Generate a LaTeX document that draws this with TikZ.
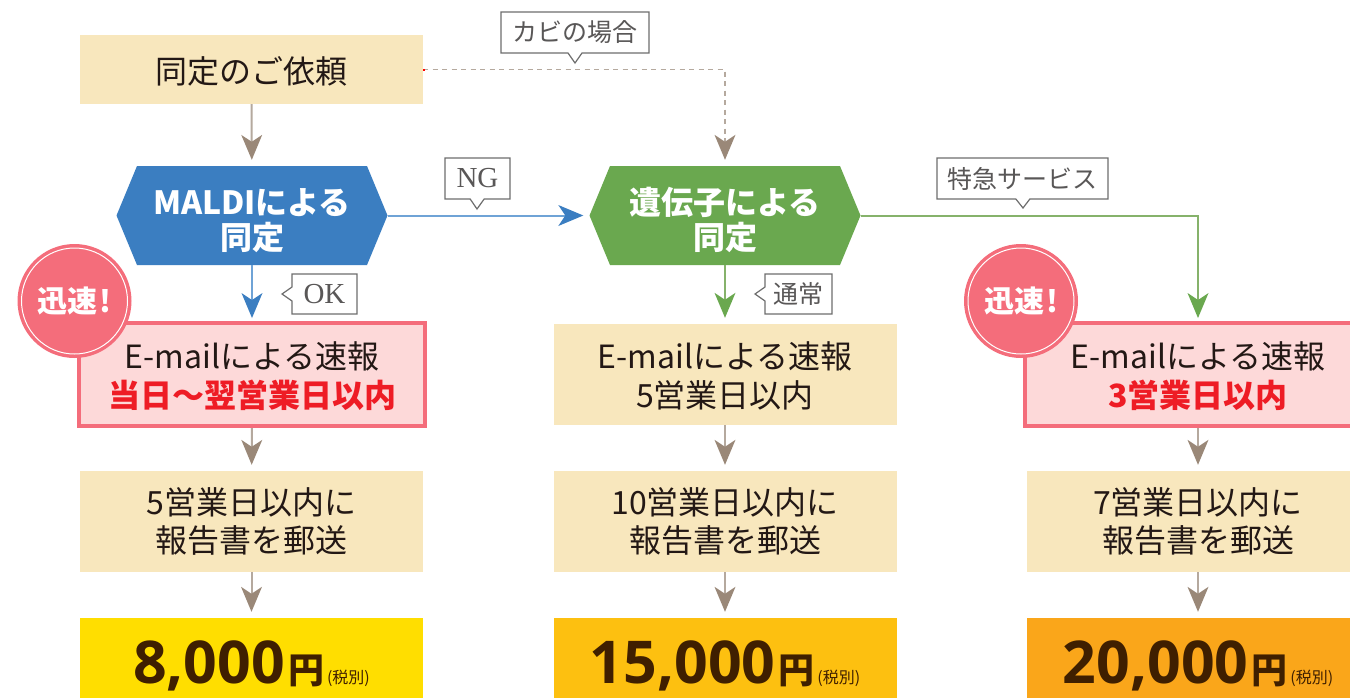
\documentclass[tikz,border=0pt]{standalone}
\usepackage{fontspec}
\setmainfont{Noto Sans CJK JP}
\newfontfamily\labelfont{Liberation Serif}
\newfontfamily\pricefont{Open Sans}
\usetikzlibrary{arrows.meta,shapes.callouts,calc}
\definecolor{cream}{HTML}{F8E7BD}
\definecolor{inkdark}{HTML}{231815}
\definecolor{bluefill}{HTML}{3B7EC1}
\definecolor{blueline}{HTML}{6FA3D6}
\definecolor{greenfill}{HTML}{6AA84F}
\definecolor{greenline}{HTML}{86B26B}
\definecolor{brownhead}{HTML}{9A8878}
\definecolor{brownline}{HTML}{B5A99E}
\definecolor{coral}{HTML}{F46D7B}
\definecolor{pinkfill}{HTML}{FDD9D9}
\definecolor{redtext}{HTML}{EE1C25}
\definecolor{graytext}{HTML}{595757}
\definecolor{grayedge}{HTML}{6E6E6E}
\definecolor{priceink}{HTML}{3F1F00}
\definecolor{priceA}{HTML}{FFDE00}
\definecolor{priceB}{HTML}{FDC010}
\definecolor{priceC}{HTML}{FAA61A}
\tikzset{
  basebox/.style={inner sep=0pt,align=center,text=inkdark,font=\fontsize{32}{38}\selectfont},
  creambox/.style={basebox,fill=cream,minimum width=343pt,minimum height=101pt},
  pinkbox/.style={basebox,fill=pinkfill,draw=coral,line width=4pt,minimum width=346pt,minimum height=103pt},
  hexnode/.style={inner sep=0pt,align=center,text=white,minimum width=271pt,minimum height=99pt,
    font=\fontsize{32}{35}\selectfont\bfseries,
    path picture={\fill[#1]
      (path picture bounding box.west) --
      ([xshift=20.5pt]path picture bounding box.north west) --
      ([xshift=-20.5pt]path picture bounding box.north east) --
      (path picture bounding box.east) --
      ([xshift=-20.5pt]path picture bounding box.south east) --
      ([xshift=20.5pt]path picture bounding box.south west) -- cycle;}},
  pricebox/.style={inner sep=0pt,minimum width=343pt,minimum height=80pt,text=priceink,fill=#1},
  tag/.style={rectangle callout,draw=grayedge,fill=white,line width=1.2pt,text=graytext,inner sep=0pt,
    callout pointer width=14pt,font=\fontsize{25}{25}\selectfont},
  badge/.style={circle,fill=coral,minimum size=114pt,inner sep=0pt,text=white,font=\fontsize{30}{30}\selectfont\bfseries},
  brown/.style={line width=2pt,draw=brownline,shorten >=6pt,
    -{Stealth[length=25pt,width=21pt,inset=7pt,color=brownhead,line width=0pt]}},
  bluearrow/.style={line width=2pt,draw=blueline,shorten >=6pt,
    -{Stealth[length=25pt,width=21pt,inset=7pt,color=bluefill,line width=0pt]}},
  greenarrow/.style={line width=2pt,draw=greenline,shorten >=6pt,
    -{Stealth[length=25pt,width=21pt,inset=7pt,color=greenfill,line width=0pt]}},
  dasharrow/.style={line width=1.3pt,draw=brownline,dash pattern=on 5pt off 4.5pt,shorten >=6pt,
    -{Stealth[length=25pt,width=21pt,inset=7pt,color=brownhead,line width=0pt]}},
}
\newcommand{\pricetext}[1]{\raisebox{-25pt}[0pt][0pt]{\pricefont\fontsize{59}{59}\selectfont\bfseries #1\hspace{3pt}\fontsize{36}{36}\selectfont\rmfamily 円\mdseries\hspace{3pt}\fontsize{16}{16}\selectfont (税別)}}
\newcommand{\lead}[1]{\rule{0pt}{#1pt}}
\begin{document}
\begin{tikzpicture}[x=1pt,y=-1pt]
\clip (0,0) rectangle (1350,697);
\fill[white] (0,0) rectangle (1350,697);
% top box and hexagons
\node[creambox,minimum height=69pt] (req) at (251.5,69.5) {\lead{31}同定のご依頼};
\node[hexnode=bluefill] (maldi) at (252,215.5) {\lead{36}MALDIによる\\同定};
\node[hexnode=greenfill] (gene) at (725,215.5) {\lead{36}遺伝子による\\同定};
% report boxes
\node[pinkbox] (mailA) at (252,374.5) {\lead{30}E-mailによる速報\\[0.5pt]{\color{redtext}\bfseries 当日～翌営業日以内}};
\node[creambox] (mailB) at (725,374.5) {\lead{30}E-mailによる速報\\[0.5pt]5営業日以内};
\node[pinkbox] (mailC) at (1198,374.5) {\lead{30}E-mailによる速報\\[0.5pt]{\color{redtext}\bfseries 3営業日以内}};
% mail boxes
\node[creambox] (postA) at (251.5,521.5) {5営業日以内に\\報告書を郵送};
\node[creambox] (postB) at (725,521.5) {10営業日以内に\\報告書を郵送};
\node[creambox] (postC) at (1198,521.5) {7営業日以内に\\報告書を郵送};
% prices
\node[pricebox=priceA] (feeA) at (251.5,658) {\pricetext{8,000}};
\node[pricebox=priceB] (feeB) at (725,658) {\pricetext{15,000}};
\node[pricebox=priceC] (feeC) at (1198,658) {\pricetext{20,000}};
% badges
\node[badge] (fastA) at (74.5,301) {迅速\hspace{2pt}!};
\node[badge] (fastC) at (1021,301) {迅速\hspace{2pt}!};
\draw[white,line width=1pt] (fastA.center) circle (53);
\draw[white,line width=1pt] (fastC.center) circle (53);
% connectors
\draw[brown] (req) -- (maldi);
\draw[bluearrow,shorten >=3pt] (maldi) -- (mailA);
\draw[brown] (mailA) -- (postA);
\draw[brown] (postA) -- (feeA);
\draw[bluearrow] (maldi) -- (gene);
\draw[greenarrow] (gene) -- (mailB);
\draw[brown] (mailB) -- (postB);
\draw[brown] (postB) -- (feeB);
\draw[greenarrow,shorten >=3pt] (gene.east) -| (mailC.north);
\draw[brown] (mailC) -- (postC);
\draw[brown] (postC) -- (feeC);
\draw[dasharrow] (req.east) -| (gene.north);
\fill[red] ($(req.east)+(0,-1)$) rectangle ++(2,2);
% tags
\node[tag,minimum width=148pt,minimum height=41pt,callout absolute pointer={(575,63)}] (tagmold) at (575,32.5) {カビの場合};
\node[tag,minimum width=65pt,minimum height=41pt,callout absolute pointer={(477,209)},font=\labelfont\fontsize{29}{29}\selectfont] (tagng) at (477.5,178.5) {NG};
\node[tag,minimum width=65pt,minimum height=40pt,callout absolute pointer={(282,294)},font=\labelfont\fontsize{29}{29}\selectfont] (tagok) at (324.5,294) {OK};
\node[tag,minimum width=67pt,minimum height=40pt,callout absolute pointer={(755,294)}] (tagnorm) at (798.5,294) {通常};
\node[tag,minimum width=171pt,minimum height=41pt,callout absolute pointer={(1023,208)}] (tagexp) at (1022.5,178.5) {特急サービス};
\end{tikzpicture}
\end{document}
